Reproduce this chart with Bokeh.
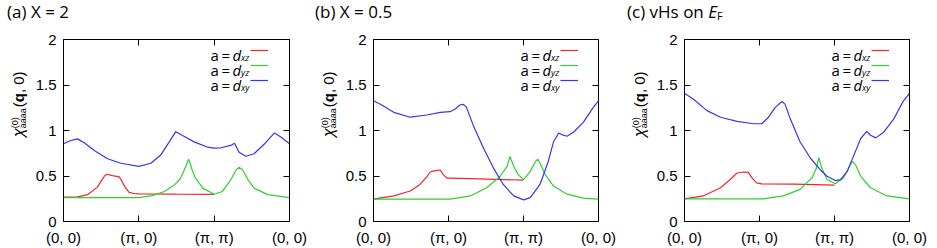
from bokeh.plotting import figure
from bokeh.models import FixedTicker, LinearAxis, Range1d, Label, Legend, LegendItem, Div
from bokeh.layouts import row, column
from bokeh.embed import file_html
from bokeh.resources import INLINE

# ---------------- data ----------------
x_ticks = [0, 1, 2, 3]
x_tick_labels = ["(0, 0)", "(π, 0)", "(π, π)", "(0, 0)"]
y_ticks = [0, 0.5, 1, 1.5, 2]
y_tick_labels = ["0", "0.5", "1", "1.5", "2"]

orbitals = ["xz", "yz", "xy"]

# panel (a)  X = 2
a_xz_x = [0.0, 0.186, 0.32, 0.45, 0.51, 0.545, 0.576, 0.65, 0.74, 0.77, 0.81, 0.87, 0.95, 1.0, 1.5, 2.0]
a_xz_y = [0.267, 0.27, 0.295, 0.378, 0.457, 0.50, 0.519, 0.505, 0.49, 0.45, 0.386, 0.32, 0.305, 0.303, 0.30, 0.298]
a_yz_x = [0.0, 1.0, 1.18, 1.34, 1.47, 1.55, 1.60, 1.64, 1.66, 1.68, 1.71, 1.75, 1.85, 2.0, 2.11, 2.22, 2.29, 2.33, 2.38, 2.45, 2.53, 2.71, 3.0]
a_yz_y = [0.262, 0.262, 0.285, 0.33, 0.40, 0.47, 0.56, 0.64, 0.685, 0.64, 0.56, 0.48, 0.367, 0.300, 0.33, 0.457, 0.566, 0.595, 0.566, 0.457, 0.367, 0.295, 0.262]
a_xy_x = [0.0, 0.097, 0.186, 0.275, 0.408, 0.585, 0.762, 1.0, 1.16, 1.29, 1.40, 1.49, 1.58, 1.74, 1.91, 2.0, 2.09, 2.22, 2.27, 2.33, 2.42, 2.53, 2.67, 2.80, 2.89, 3.0]
a_xy_y = [0.854, 0.89, 0.908, 0.865, 0.78, 0.69, 0.64, 0.605, 0.64, 0.73, 0.87, 0.987, 0.944, 0.872, 0.818, 0.807, 0.81, 0.836, 0.86, 0.76, 0.717, 0.745, 0.854, 0.973, 0.926, 0.854]

# panel (b)  X = 0.5
b_xz_x = [0.0, 0.27, 0.49, 0.62, 0.71, 0.756, 0.82, 0.89, 0.93, 0.98, 1.02, 1.4, 1.73, 2.0]
b_xz_y = [0.245, 0.281, 0.335, 0.407, 0.49, 0.544, 0.559, 0.566, 0.515, 0.476, 0.476, 0.468, 0.461, 0.454]
b_yz_x = [0.0, 1.02, 1.29, 1.51, 1.69, 1.78, 1.82, 1.87, 1.93, 2.0, 2.09, 2.16, 2.19, 2.22, 2.29, 2.40, 2.58, 2.80, 3.0]
b_yz_y = [0.245, 0.245, 0.281, 0.371, 0.497, 0.605, 0.714, 0.605, 0.515, 0.461, 0.551, 0.66, 0.685, 0.641, 0.515, 0.389, 0.30, 0.256, 0.245]
b_xy_x = [0.0, 0.11, 0.27, 0.49, 0.71, 0.89, 1.02, 1.09, 1.15, 1.20, 1.24, 1.33, 1.47, 1.60, 1.73, 1.87, 2.0, 2.09, 2.22, 2.33, 2.40, 2.47, 2.51, 2.58, 2.67, 2.80, 2.93, 3.0]
b_xy_y = [1.326, 1.28, 1.20, 1.146, 1.17, 1.20, 1.207, 1.236, 1.28, 1.287, 1.254, 1.056, 0.80, 0.587, 0.407, 0.281, 0.238, 0.263, 0.407, 0.66, 0.876, 0.973, 0.955, 0.937, 0.984, 1.092, 1.254, 1.326]

# panel (c)  vHs on E_F
c_xz_x = [0.0, 0.25, 0.48, 0.61, 0.70, 0.79, 0.85, 0.90, 0.96, 1.03, 1.46, 2.0]
c_xz_y = [0.249, 0.281, 0.371, 0.461, 0.533, 0.544, 0.54, 0.479, 0.425, 0.414, 0.41, 0.40]
c_yz_x = [0.0, 1.05, 1.32, 1.54, 1.70, 1.76, 1.79, 1.83, 1.90, 2.01, 2.12, 2.21, 2.24, 2.28, 2.35, 2.48, 2.70, 3.0]
c_yz_y = [0.249, 0.249, 0.281, 0.353, 0.479, 0.587, 0.703, 0.587, 0.461, 0.414, 0.479, 0.623, 0.659, 0.623, 0.497, 0.371, 0.281, 0.249]
c_xy_x = [0.0, 0.12, 0.30, 0.48, 0.70, 0.92, 1.03, 1.12, 1.21, 1.30, 1.34, 1.41, 1.54, 1.68, 1.81, 1.90, 2.01, 2.08, 2.17, 2.26, 2.35, 2.43, 2.48, 2.55, 2.66, 2.79, 2.92, 3.0]
c_xy_y = [1.409, 1.344, 1.218, 1.146, 1.10, 1.074, 1.074, 1.146, 1.254, 1.319, 1.29, 1.128, 0.876, 0.695, 0.569, 0.497, 0.45, 0.461, 0.551, 0.732, 0.912, 0.991, 0.948, 0.919, 0.984, 1.128, 1.326, 1.409]

titles_html = [
    "(a) X = 2",
    "(b) X = 0.5",
    "(c) vHs on <i>E</i><sub style='font-size:11px;vertical-align:-2px'>F</sub>",
]

COLORS = {"xz": "#f22626", "yz": "#2fd02f", "xy": "#3535ee"}
TICK_FONT = "Liberation Sans"
TEXT_FONT = "Open Sans"


def ylabel_html(left, top):
    return (
        f"<div style=\"position:absolute; left:{left}px; top:{top}px; "
        "transform-origin:0 0; transform:rotate(-90deg); white-space:nowrap; "
        "font-family:'Liberation Sans'; font-size:15px; line-height:16px; color:black;\">"
        "<i style='font-size:16px'>χ</i>"
        "<span style='display:inline-block; vertical-align:-2px; font-size:9px; "
        "line-height:8px; text-align:left; margin-right:1px'>(0)<br>aaaa</span>"
        "(<b>q</b>, 0)</div>"
    )


def lab(p, x, y, text, size, font=TEXT_FONT, style="normal"):
    p.add_layout(Label(x=x, y=y, x_units="screen", y_units="screen", text=text,
                       text_font=font, text_font_size=size, text_font_style=style,
                       text_align="left", text_baseline="alphabetic", text_color="black"))


def make_fig(width, left, right, series):
    p = figure(width=width, height=217, x_range=Range1d(0, 3), y_range=Range1d(0, 2),
               output_backend="svg", toolbar_location=None,
               min_border_left=left, min_border_right=right,
               min_border_top=8, min_border_bottom=24)
    p.grid.visible = False
    p.outline_line_color = "black"
    p.outline_line_width = 1
    p.background_fill_color = "white"
    p.border_fill_color = "white"

    xa = p.xaxis[0]
    xa.ticker = FixedTicker(ticks=x_ticks)
    xa.major_label_overrides = {t: l for t, l in zip(x_ticks, x_tick_labels)}
    ya = p.yaxis[0]
    ya.ticker = FixedTicker(ticks=y_ticks)
    ya.major_label_overrides = {t: l for t, l in zip(y_ticks, y_tick_labels)}
    for ax in (xa, ya):
        ax.axis_line_color = None
        ax.major_tick_in = 6
        ax.major_tick_out = 0
        ax.major_tick_line_color = "black"
        ax.minor_tick_line_color = None
        ax.major_label_text_font = TICK_FONT
        ax.major_label_text_font_size = "15px"
        ax.major_label_text_color = "black"
    xa.major_label_standoff = 7
    ya.major_label_standoff = 7

    top = LinearAxis(ticker=FixedTicker(ticks=x_ticks), axis_line_color=None,
                     major_tick_in=6, major_tick_out=0, minor_tick_line_color=None,
                     major_label_text_font_size="1px", major_label_text_alpha=0,
                     major_label_standoff=0)
    p.add_layout(top, "above")
    rgt = LinearAxis(ticker=FixedTicker(ticks=y_ticks), axis_line_color=None,
                     major_tick_in=6, major_tick_out=0, minor_tick_line_color=None,
                     major_label_text_font_size="1px", major_label_text_alpha=0,
                     major_label_standoff=0)
    p.add_layout(rgt, "right")

    rends = []
    for orb in orbitals:
        xs, ys = series[orb]
        rends.append(p.line(xs, ys, line_color=COLORS[orb], line_width=1.2))

    L0 = 187
    leg = Legend(items=[LegendItem(label=" ", renderers=[r]) for r in rends],
                 location=(L0, 134), orientation="vertical",
                 padding=0, margin=0, spacing=1, glyph_width=18, glyph_height=14,
                 label_height=14, label_width=0, label_standoff=0,
                 label_text_font_size="1px", background_fill_alpha=0,
                 border_line_color=None)
    p.add_layout(leg)
    for i, orb in enumerate(orbitals):
        yb = 167 - 15 * i
        lab(p, L0 - 40, yb, "a", "15px")
        lab(p, L0 - 29, yb, "=", "15px")
        lab(p, L0 - 18, yb, "d", "15px", style="italic")
        lab(p, L0 - 9.5, yb - 3, orb, "9px", style="italic")
    return p


def title_div(width, left, html):
    return Div(text=(f"<div style=\"position:absolute; left:{left}px; top:0px; "
                     "font-family:'Open Sans'; font-size:17px; line-height:23px; "
                     "white-space:nowrap; color:black;\">" + html + "</div>"),
               width=width, height=31, margin=0, styles={"overflow": "visible"})


def ylabel_div(width, left):
    return Div(text=ylabel_html(left, 106), width=width, height=217, margin=0,
               styles={"overflow": "visible"})


fa = make_fig(285, 33, 26, {"xz": (a_xz_x, a_xz_y), "yz": (a_yz_x, a_yz_y), "xy": (a_xy_x, a_xy_y)})
fb = make_fig(281, 32, 24, {"xz": (b_xz_x, b_xz_y), "yz": (b_yz_x, b_yz_y), "xy": (b_xy_x, b_xy_y)})
fc = make_fig(289, 36, 28, {"xz": (c_xz_x, c_xz_y), "yz": (c_yz_x, c_yz_y), "xy": (c_xy_x, c_xy_y)})

top_row = row(title_div(315, 7, titles_html[0]), title_div(307, 0, titles_html[1]),
              title_div(315, 5, titles_html[2]), spacing=0)
main_row = row(ylabel_div(30, 11), fa, ylabel_div(26, 6), fb, ylabel_div(26, 10), fc, spacing=0)
layout = column(top_row, main_row, spacing=0)

open("out.html", "w").write(file_html(layout, INLINE))
